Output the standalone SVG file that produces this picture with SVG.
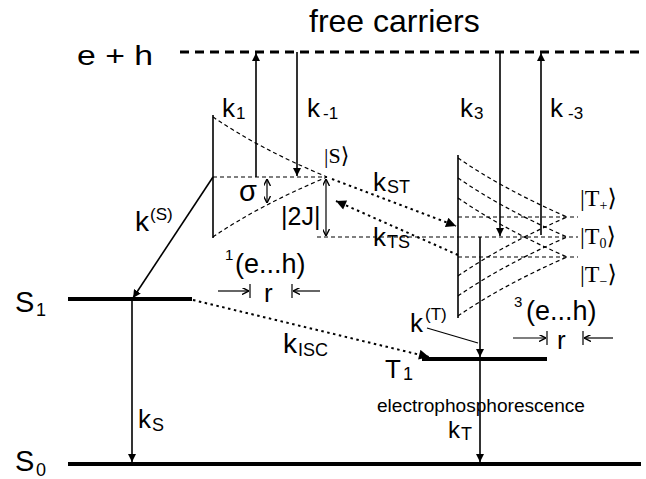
<svg xmlns="http://www.w3.org/2000/svg" width="646" height="479" viewBox="0 0 646 479">
<style>
text{font-family:"Liberation Sans",Arial,sans-serif;fill:#000}
.big{font-size:26px}
.sub{font-size:18px}
.ket{font-family:"Liberation Serif","DejaVu Serif",serif}
.solid{stroke:#000;stroke-width:1.6;fill:none}
.level{stroke:#000;stroke-width:4;fill:none}
.fan{stroke:#000;stroke-width:1.2;stroke-dasharray:4 3;fill:none}
.dot{stroke:#000;stroke-width:2;stroke-dasharray:2.5 3.5;fill:none}
.thin{stroke:#000;stroke-width:1.2;fill:none}
</style>
<defs>
<marker id="ah" viewBox="0 0 10 10" refX="10" refY="5" markerWidth="8" markerHeight="9" markerUnits="userSpaceOnUse" orient="auto-start-reverse"><path d="M0,0 L10,5 L0,10 z" fill="#000"/></marker>
<marker id="ahs" viewBox="0 0 10 10" refX="10" refY="5" markerWidth="7" markerHeight="7" markerUnits="userSpaceOnUse" orient="auto-start-reverse"><path d="M0,0 L10,5 L0,10" fill="none" stroke="#000" stroke-width="2"/></marker>
<marker id="ahd" viewBox="0 0 10 10" refX="10" refY="5" markerWidth="11" markerHeight="10" markerUnits="userSpaceOnUse" orient="auto"><path d="M0,0 L10,5 L0,10 z" fill="#000"/></marker>
</defs>
<rect width="646" height="479" fill="#fff"/>

<g id="free-carriers">
<text x="309" y="32" style="font-size:32px">free carriers</text>
<text x="77" y="65" style="font-size:28px" textLength="76" lengthAdjust="spacingAndGlyphs">e + h</text>
<line x1="180" y1="52" x2="642" y2="52" stroke="#000" stroke-width="3" stroke-dasharray="9 6"/>
</g>

<g id="S1">
<line class="level" x1="68" y1="299" x2="192" y2="299"/>
<text x="15" y="312" style="font-size:29px">S</text>
<text x="36" y="316" class="sub">1</text>
</g>

<g id="S0">
<line class="level" x1="68" y1="464" x2="641" y2="464"/>
<text x="15" y="471" style="font-size:29px">S</text>
<text x="36" y="476" class="sub">0</text>
</g>

<g id="T1">
<line class="level" x1="422" y1="359" x2="547" y2="359"/>
<text x="385" y="378" style="font-size:26px">T</text>
<text x="403" y="380" class="sub">1</text>
</g>

<g id="singlet-pair">
<line class="solid" x1="213" y1="115" x2="213" y2="238"/>
<line class="fan" x1="213" y1="177" x2="327" y2="177"/>
<path class="fan" d="M213,117 Q258,148 327,177"/>
<path class="fan" d="M213,237 Q258,206 327,177"/>
<text x="324" y="163" class="ket" style="font-size:22px">|S⟩</text>
<text x="239" y="201" style="font-size:29px">σ</text>
<text x="281" y="225" style="font-size:25px">|2J|</text>
<text x="225" y="260" style="font-size:15px">1</text>
<text x="235" y="273" style="font-size:27px">(e...h)</text>
<text x="264" y="302" style="font-size:26px">r</text>
<line class="thin" x1="250" y1="284" x2="250" y2="298"/>
<line class="thin" x1="292" y1="284" x2="292" y2="298"/>
</g>

<g id="triplet-pair">
<line class="solid" x1="458" y1="155" x2="458" y2="318"/>
<line class="fan" x1="458" y1="217" x2="578" y2="217"/>
<line class="fan" x1="317" y1="237" x2="578" y2="237"/>
<line class="fan" x1="458" y1="257" x2="578" y2="257"/>
<path class="fan" d="M458,158 Q503,189 567,217"/>
<path class="fan" d="M458,178 Q503,209 567,237"/>
<path class="fan" d="M458,198 Q503,229 567,257"/>
<path class="fan" d="M458,276 Q503,245 567,217"/>
<path class="fan" d="M458,296 Q503,265 567,237"/>
<path class="fan" d="M458,316 Q503,285 567,257"/>
<text x="580" y="206" class="ket" style="font-size:24px">|T<tspan style="font-size:14px" dy="4">+</tspan><tspan dy="-4">⟩</tspan></text>
<text x="580" y="244" class="ket" style="font-size:24px">|T<tspan style="font-size:14px" dy="4">0</tspan><tspan dy="-4">⟩</tspan></text>
<text x="580" y="282" class="ket" style="font-size:24px">|T<tspan style="font-size:14px" dy="4">−</tspan><tspan dy="-4">⟩</tspan></text>
<text x="514" y="307" style="font-size:15px">3</text>
<text x="526" y="320" style="font-size:27px">(e...h)</text>
<text x="557" y="349" style="font-size:26px">r</text>
<line class="thin" x1="547" y1="331" x2="547" y2="345"/>
<line class="thin" x1="583" y1="331" x2="583" y2="345"/>
</g>

<g id="connectors">
<line class="solid" x1="256" y1="177" x2="256" y2="53" marker-end="url(#ah)"/>
<line class="solid" x1="297" y1="52" x2="297" y2="176" marker-end="url(#ah)"/>
<line class="solid" x1="500" y1="52" x2="500" y2="236" marker-end="url(#ah)"/>
<line class="solid" x1="541" y1="235" x2="541" y2="53" marker-end="url(#ah)"/>
<line class="solid" x1="213" y1="177" x2="133" y2="298" marker-end="url(#ah)"/>
<line class="solid" x1="132" y1="301" x2="132" y2="462" marker-end="url(#ah)"/>
<line class="dot" x1="193" y1="300" x2="429" y2="357" marker-end="url(#ahd)"/>
<line class="dot" x1="332" y1="179" x2="456" y2="226" marker-end="url(#ahd)"/>
<line class="dot" x1="458" y1="255" x2="336" y2="201" marker-end="url(#ahd)"/>
<line class="thin" x1="267" y1="179" x2="267" y2="203" marker-start="url(#ahs)" marker-end="url(#ahs)"/>
<line class="thin" x1="326" y1="179" x2="326" y2="236" marker-start="url(#ahs)" marker-end="url(#ahs)"/>
<line class="solid" x1="480" y1="237" x2="480" y2="357" marker-end="url(#ah)"/>
<line class="solid" x1="480" y1="360" x2="480" y2="462" marker-end="url(#ah)"/>
<line class="thin" x1="427" y1="328" x2="478" y2="343"/>
<line class="thin" x1="218" y1="291" x2="249" y2="291" marker-end="url(#ahs)"/>
<line class="thin" x1="320" y1="291" x2="293" y2="291" marker-end="url(#ahs)"/>
<line class="thin" x1="513" y1="338" x2="546" y2="338" marker-end="url(#ahs)"/>
<line class="thin" x1="613" y1="338" x2="584" y2="338" marker-end="url(#ahs)"/>
</g>

<g id="rate-labels">
<text x="222" y="117" class="big">k</text><text x="236" y="119" style="font-size:17px">1</text>
<text x="307" y="117" class="big">k</text><text x="323" y="119" style="font-size:17px">-1</text>
<text x="460" y="117" class="big">k</text><text x="474" y="119" style="font-size:17px">3</text>
<text x="550" y="117" class="big">k</text><text x="568" y="119" style="font-size:17px">-3</text>
<text x="135" y="231" style="font-size:28px">k</text><text x="150" y="220" style="font-size:17px">(S)</text>
<text x="373" y="191" class="big">k</text><text x="387" y="193" class="sub">ST</text>
<text x="373" y="246" class="big">k</text><text x="387" y="248" class="sub">TS</text>
<text x="283" y="353" style="font-size:28px">k</text><text x="298" y="356" class="sub">ISC</text>
<text x="138" y="428" class="big">k</text><text x="152" y="431" class="sub">S</text>
<text x="410" y="332" class="big">k</text><text x="425" y="320" style="font-size:17px">(T)</text>
<text x="377" y="412" style="font-size:18px" textLength="208" lengthAdjust="spacingAndGlyphs">electrophosphorescence</text>
<text x="448" y="438" style="font-size:24px">k</text><text x="461" y="440" class="sub">T</text>
</g>
</svg>
